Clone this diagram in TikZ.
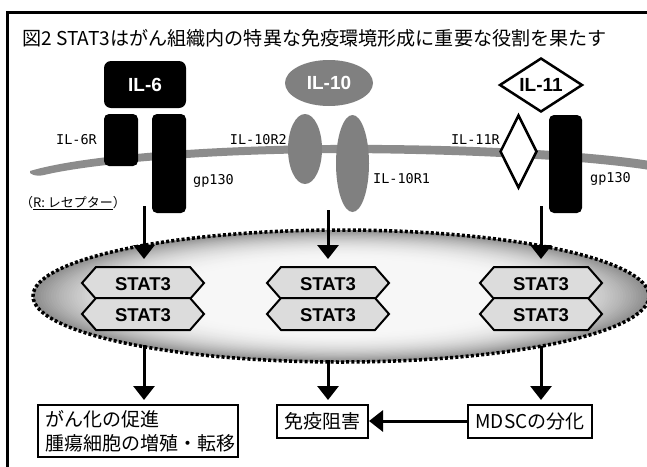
\documentclass[tikz,border=0pt]{standalone}
\usepackage{fontspec}
\setmainfont{Liberation Sans}
\newfontfamily\jp{Noto Sans CJK JP}
\newfontfamily\mono{DejaVu Sans Mono}
\usetikzlibrary{arrows.meta,shapes.geometric}
\definecolor{memb}{HTML}{8C8C8C}
\definecolor{recg}{HTML}{808080}
\definecolor{hexfill}{HTML}{DCDCDC}
\tikzset{
  recbox/.style={draw=none, fill=black, rounded corners=5pt, inner sep=0pt},
  small/.style={font=\mono\fontsize{13.5}{14}\selectfont, inner sep=0pt},
  outbox/.style={draw=black, line width=2pt, fill=white, font=\jp\fontsize{19}{24}\selectfont, inner sep=0pt},
  arr/.style={line width=3pt, -{Triangle[width=21pt,length=14pt]}},
  hexline/.style={draw=black, line width=2pt, fill=hexfill, line join=miter},
  hexlabel/.style={font=\fontsize{18.5}{19}\selectfont\bfseries, inner sep=0pt}
}
\newcommand\stathex[3]{%
  \draw[hexline] (#2-61,#3) -- (#2-47,#3-16) -- (#2+47,#3-16) -- (#2+61,#3) -- (#2+47,#3+16) -- (#2-47,#3+16) -- cycle;
  \node[hexlabel] (#1) at (#2,#3+1) {STAT3};
}
\begin{document}
\begin{tikzpicture}[x=1pt,y=-1pt]
\useasboundingbox (0,0) rectangle (647,466);
\fill[white] (0,0) rectangle (647,466);
% frame
\draw[line width=3pt] (650,12) -- (7,12) -- (7,470);
% title
\node[anchor=west, inner sep=0pt, font=\jp\fontsize{19.1}{20}\selectfont] (title) at (22,38) {図2 STAT3はがん組織内の特異な免疫環境形成に重要な役割を果たす};
% membrane
\fill[memb] (30,171) .. controls (80,156) and (200,146) .. (330,145)
  .. controls (450,144) and (580,150) .. (650,161)
  -- (650,170) .. controls (580,159) and (450,153) .. (330,153)
  .. controls (200,154) and (90,164) .. (44,175) .. controls (36,177) and (28,174) .. cycle;
% ligands
\node[recbox, rounded corners=7pt, minimum width=82pt, minimum height=47pt, text=white, font=\fontsize{19}{19}\selectfont\bfseries] (il6) at (145,84.5) {IL-6};
\node[ellipse, fill=recg, minimum width=88pt, minimum height=46pt, inner sep=0pt, text=white, font=\fontsize{19}{19}\selectfont\bfseries] (il10) at (329,83) {IL-10};
\node[diamond, draw=black, line width=2.5pt, fill=white, minimum width=83pt, minimum height=54pt, aspect=1.54, inner sep=0pt, font=\fontsize{19}{19}\selectfont\bfseries] (il11) at (541,85) {IL-11};
% receptors
\node[recbox, minimum width=34pt, minimum height=52pt] (il6r) at (121,140) {};
\node[recbox, minimum width=34pt, minimum height=99pt] (gpa) at (169,163.5) {};
\node[ellipse, fill=recg, minimum width=34pt, minimum height=70pt, inner sep=0pt] (r2) at (305,149) {};
\node[ellipse, fill=recg, minimum width=33pt, minimum height=97pt, inner sep=0pt] (r1) at (352.5,163.5) {};
\node[diamond, draw=black, line width=2.5pt, fill=white, minimum width=37pt, minimum height=73pt, inner sep=0pt] (il11r) at (518.5,151.5) {};
\node[recbox, minimum width=33pt, minimum height=98pt] (gpb) at (565.5,164) {};
% receptor labels
\node[small, anchor=east] (l6r) at (97,140) {IL-6R};
\node[small, anchor=west] (lgpa) at (193,181) {gp130};
\node[small, anchor=east] (lr2) at (287,140) {IL-10R2};
\node[small, anchor=west] (lr1) at (373,179) {IL-10R1};
\node[small, anchor=east] (l11r) at (500,140) {IL-11R};
\node[small, anchor=west] (lgpb) at (590,179) {gp130};
\node[anchor=west, inner sep=0pt, font=\jp\fontsize{13}{14}\selectfont] (rnote) at (20,203) {（\underline{R: レセプター}）};
% cytoplasm with radial gradient
\fill[white!97!black] (341,296) ellipse [x radius=308, y radius=66];
\foreach \i in {0,...,60}{
  \pgfmathsetmacro\t{1-\i/120}
  \pgfmathsetmacro\w{97-42*((\t-0.5)/0.5)^2.5}
  \fill[white!\w!black] (341,296) ellipse [x radius=308*\t, y radius=66*\t];
}
\draw[line width=3.5pt, dash pattern=on 3pt off 2.2pt] (341,296) ellipse [x radius=308, y radius=66];
\coordinate (ta) at (144,206);
\coordinate (tb) at (328,210);
\coordinate (tc) at (541,206);
\coordinate (ha) at (144,259);
\coordinate (hb) at (328,259);
\coordinate (hc) at (541,259);
\draw[arr] (ta) -- (ha);
\draw[arr] (tb) -- (hb);
\draw[arr] (tc) -- (hc);
% STAT3 dimers
\stathex{sa1}{143}{283}
\stathex{sa2}{143}{314}
\stathex{sb1}{328}{283}
\stathex{sb2}{328}{314}
\stathex{sc1}{541}{283}
\stathex{sc2}{541}{314}
% outputs
\node[outbox, minimum width=200pt, minimum height=52pt, align=left, text width=186pt] (oa) at (138,431) {がん化の促進\\腫瘍細胞の増殖・転移};
\node[outbox, minimum width=91pt, minimum height=33pt] (ob) at (322.5,421) {免疫阻害};
\node[outbox, minimum width=124pt, minimum height=33pt] (oc) at (530,421) {MDSCの分化};
\coordinate (ba) at (144,345);
\coordinate (bb) at (328,360);
\coordinate (bc) at (541,346);
\draw[arr] (ba) -- (144,400);
\draw[arr] (bb) -- (328,400);
\draw[arr] (bc) -- (541,400);
\draw[arr] (oc.west) -- (ob.east);
\end{tikzpicture}
\end{document}
